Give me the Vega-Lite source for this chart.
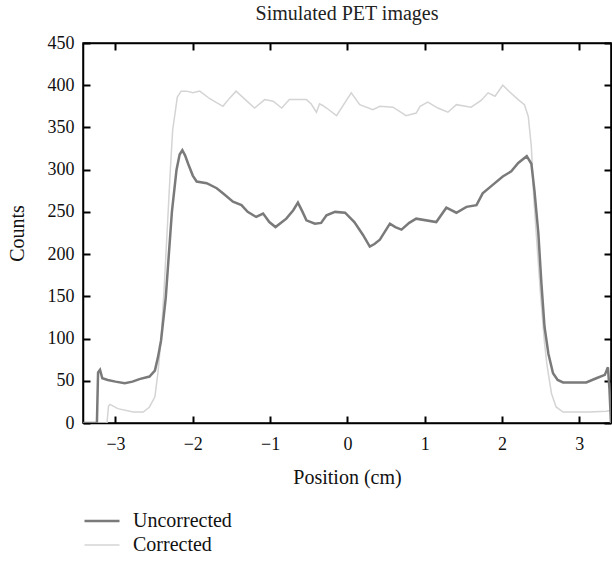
{
  "$schema": "https://vega.github.io/schema/vega-lite/v6.json",
  "width": 528,
  "height": 380,
  "autosize": {"type": "none"},
  "padding": {"left": 83, "top": 43, "right": 1, "bottom": 139},
  "title": {"text": "Simulated PET images", "font": "Liberation Serif", "fontSize": 20, "fontWeight": "normal", "color": "#222", "offset": 10},
  "config": {
    "font": "Liberation Serif",
    "view": {"stroke": "black", "strokeWidth": 1.5},
    "axis": {
      "domainColor": "black", "domainWidth": 1.5,
      "tickColor": "black", "tickWidth": 2, "tickSize": -7,
      "labelFont": "Liberation Serif", "labelFontSize": 18, "labelColor": "#111",
      "titleFont": "Liberation Serif", "titleFontSize": 20, "titleFontWeight": "normal", "titleColor": "#111",
      "grid": false
    }
  },
  "data": {"values": [
    {"x": -3.42, "y": 0, "s": "Corrected"},
    {"x": -3.11, "y": 0, "s": "Corrected"},
    {"x": -3.09, "y": 20, "s": "Corrected"},
    {"x": -3.07, "y": 22, "s": "Corrected"},
    {"x": -2.97, "y": 17, "s": "Corrected"},
    {"x": -2.77, "y": 13, "s": "Corrected"},
    {"x": -2.64, "y": 13, "s": "Corrected"},
    {"x": -2.56, "y": 19, "s": "Corrected"},
    {"x": -2.49, "y": 31, "s": "Corrected"},
    {"x": -2.45, "y": 60, "s": "Corrected"},
    {"x": -2.41, "y": 100, "s": "Corrected"},
    {"x": -2.37, "y": 160, "s": "Corrected"},
    {"x": -2.33, "y": 230, "s": "Corrected"},
    {"x": -2.29, "y": 300, "s": "Corrected"},
    {"x": -2.26, "y": 347, "s": "Corrected"},
    {"x": -2.20, "y": 386, "s": "Corrected"},
    {"x": -2.15, "y": 393, "s": "Corrected"},
    {"x": -2.08, "y": 393, "s": "Corrected"},
    {"x": -2.00, "y": 391, "s": "Corrected"},
    {"x": -1.91, "y": 393, "s": "Corrected"},
    {"x": -1.78, "y": 384, "s": "Corrected"},
    {"x": -1.61, "y": 375, "s": "Corrected"},
    {"x": -1.52, "y": 385, "s": "Corrected"},
    {"x": -1.44, "y": 393, "s": "Corrected"},
    {"x": -1.31, "y": 382, "s": "Corrected"},
    {"x": -1.20, "y": 373, "s": "Corrected"},
    {"x": -1.07, "y": 383, "s": "Corrected"},
    {"x": -0.96, "y": 381, "s": "Corrected"},
    {"x": -0.85, "y": 373, "s": "Corrected"},
    {"x": -0.75, "y": 383, "s": "Corrected"},
    {"x": -0.53, "y": 383, "s": "Corrected"},
    {"x": -0.47, "y": 378, "s": "Corrected"},
    {"x": -0.40, "y": 368, "s": "Corrected"},
    {"x": -0.36, "y": 378, "s": "Corrected"},
    {"x": -0.32, "y": 376, "s": "Corrected"},
    {"x": -0.27, "y": 373, "s": "Corrected"},
    {"x": -0.14, "y": 364, "s": "Corrected"},
    {"x": 0.05, "y": 391, "s": "Corrected"},
    {"x": 0.16, "y": 377, "s": "Corrected"},
    {"x": 0.33, "y": 371, "s": "Corrected"},
    {"x": 0.42, "y": 375, "s": "Corrected"},
    {"x": 0.59, "y": 374, "s": "Corrected"},
    {"x": 0.76, "y": 364, "s": "Corrected"},
    {"x": 0.89, "y": 367, "s": "Corrected"},
    {"x": 0.94, "y": 375, "s": "Corrected"},
    {"x": 1.04, "y": 380, "s": "Corrected"},
    {"x": 1.17, "y": 373, "s": "Corrected"},
    {"x": 1.30, "y": 368, "s": "Corrected"},
    {"x": 1.41, "y": 377, "s": "Corrected"},
    {"x": 1.60, "y": 374, "s": "Corrected"},
    {"x": 1.73, "y": 382, "s": "Corrected"},
    {"x": 1.82, "y": 391, "s": "Corrected"},
    {"x": 1.91, "y": 387, "s": "Corrected"},
    {"x": 2.01, "y": 400, "s": "Corrected"},
    {"x": 2.10, "y": 392, "s": "Corrected"},
    {"x": 2.21, "y": 383, "s": "Corrected"},
    {"x": 2.29, "y": 377, "s": "Corrected"},
    {"x": 2.34, "y": 363, "s": "Corrected"},
    {"x": 2.38, "y": 327, "s": "Corrected"},
    {"x": 2.41, "y": 268, "s": "Corrected"},
    {"x": 2.45, "y": 215, "s": "Corrected"},
    {"x": 2.50, "y": 150, "s": "Corrected"},
    {"x": 2.55, "y": 95, "s": "Corrected"},
    {"x": 2.58, "y": 70, "s": "Corrected"},
    {"x": 2.64, "y": 35, "s": "Corrected"},
    {"x": 2.70, "y": 19, "s": "Corrected"},
    {"x": 2.79, "y": 13, "s": "Corrected"},
    {"x": 3.13, "y": 13, "s": "Corrected"},
    {"x": 3.35, "y": 14, "s": "Corrected"},
    {"x": 3.41, "y": 15, "s": "Corrected"},
    {"x": -3.42, "y": 0, "s": "Uncorrected"},
    {"x": -3.24, "y": 0, "s": "Uncorrected"},
    {"x": -3.225, "y": 60, "s": "Uncorrected"},
    {"x": -3.20, "y": 63, "s": "Uncorrected"},
    {"x": -3.17, "y": 53, "s": "Uncorrected"},
    {"x": -3.10, "y": 51, "s": "Uncorrected"},
    {"x": -3.00, "y": 49, "s": "Uncorrected"},
    {"x": -2.88, "y": 47, "s": "Uncorrected"},
    {"x": -2.78, "y": 49, "s": "Uncorrected"},
    {"x": -2.69, "y": 52, "s": "Uncorrected"},
    {"x": -2.56, "y": 55, "s": "Uncorrected"},
    {"x": -2.49, "y": 62, "s": "Uncorrected"},
    {"x": -2.45, "y": 78, "s": "Uncorrected"},
    {"x": -2.41, "y": 98, "s": "Uncorrected"},
    {"x": -2.35, "y": 148, "s": "Uncorrected"},
    {"x": -2.31, "y": 199, "s": "Uncorrected"},
    {"x": -2.27, "y": 250, "s": "Uncorrected"},
    {"x": -2.21, "y": 300, "s": "Uncorrected"},
    {"x": -2.17, "y": 318, "s": "Uncorrected"},
    {"x": -2.135, "y": 323, "s": "Uncorrected"},
    {"x": -2.10, "y": 317, "s": "Uncorrected"},
    {"x": -2.06, "y": 307, "s": "Uncorrected"},
    {"x": -2.00, "y": 293, "s": "Uncorrected"},
    {"x": -1.95, "y": 286, "s": "Uncorrected"},
    {"x": -1.82, "y": 284, "s": "Uncorrected"},
    {"x": -1.69, "y": 278, "s": "Uncorrected"},
    {"x": -1.61, "y": 272, "s": "Uncorrected"},
    {"x": -1.48, "y": 262, "s": "Uncorrected"},
    {"x": -1.37, "y": 258, "s": "Uncorrected"},
    {"x": -1.29, "y": 250, "s": "Uncorrected"},
    {"x": -1.18, "y": 244, "s": "Uncorrected"},
    {"x": -1.09, "y": 248, "s": "Uncorrected"},
    {"x": -1.01, "y": 238, "s": "Uncorrected"},
    {"x": -0.93, "y": 232, "s": "Uncorrected"},
    {"x": -0.79, "y": 242, "s": "Uncorrected"},
    {"x": -0.70, "y": 252, "s": "Uncorrected"},
    {"x": -0.64, "y": 261, "s": "Uncorrected"},
    {"x": -0.58, "y": 250, "s": "Uncorrected"},
    {"x": -0.53, "y": 240, "s": "Uncorrected"},
    {"x": -0.42, "y": 236, "s": "Uncorrected"},
    {"x": -0.34, "y": 237, "s": "Uncorrected"},
    {"x": -0.27, "y": 246, "s": "Uncorrected"},
    {"x": -0.16, "y": 250, "s": "Uncorrected"},
    {"x": -0.03, "y": 249, "s": "Uncorrected"},
    {"x": 0.09, "y": 238, "s": "Uncorrected"},
    {"x": 0.20, "y": 223, "s": "Uncorrected"},
    {"x": 0.29, "y": 209, "s": "Uncorrected"},
    {"x": 0.35, "y": 212, "s": "Uncorrected"},
    {"x": 0.42, "y": 217, "s": "Uncorrected"},
    {"x": 0.55, "y": 236, "s": "Uncorrected"},
    {"x": 0.62, "y": 232, "s": "Uncorrected"},
    {"x": 0.70, "y": 229, "s": "Uncorrected"},
    {"x": 0.80, "y": 237, "s": "Uncorrected"},
    {"x": 0.89, "y": 242, "s": "Uncorrected"},
    {"x": 1.15, "y": 238, "s": "Uncorrected"},
    {"x": 1.28, "y": 255, "s": "Uncorrected"},
    {"x": 1.41, "y": 249, "s": "Uncorrected"},
    {"x": 1.54, "y": 256, "s": "Uncorrected"},
    {"x": 1.67, "y": 258, "s": "Uncorrected"},
    {"x": 1.75, "y": 272, "s": "Uncorrected"},
    {"x": 1.88, "y": 282, "s": "Uncorrected"},
    {"x": 2.01, "y": 292, "s": "Uncorrected"},
    {"x": 2.12, "y": 298, "s": "Uncorrected"},
    {"x": 2.21, "y": 308, "s": "Uncorrected"},
    {"x": 2.32, "y": 316, "s": "Uncorrected"},
    {"x": 2.38, "y": 307, "s": "Uncorrected"},
    {"x": 2.42, "y": 275, "s": "Uncorrected"},
    {"x": 2.47, "y": 225, "s": "Uncorrected"},
    {"x": 2.51, "y": 165, "s": "Uncorrected"},
    {"x": 2.55, "y": 114, "s": "Uncorrected"},
    {"x": 2.60, "y": 82, "s": "Uncorrected"},
    {"x": 2.66, "y": 59, "s": "Uncorrected"},
    {"x": 2.72, "y": 51, "s": "Uncorrected"},
    {"x": 2.79, "y": 48, "s": "Uncorrected"},
    {"x": 3.09, "y": 48, "s": "Uncorrected"},
    {"x": 3.22, "y": 53, "s": "Uncorrected"},
    {"x": 3.33, "y": 57, "s": "Uncorrected"},
    {"x": 3.37, "y": 66, "s": "Uncorrected"},
    {"x": 3.39, "y": 40, "s": "Uncorrected"},
    {"x": 3.41, "y": 0, "s": "Uncorrected"}
  ]},
  "layer": [
    {
      "mark": {"type": "line", "clip": true},
      "encoding": {
        "x": {"field": "x", "type": "quantitative", "scale": {"domain": [-3.42, 3.41], "nice": false, "zero": false},
              "axis": {"values": [-3, -2, -1, 0, 1, 2, 3], "title": "Position (cm)", "labelPadding": 19, "titlePadding": 14}},
        "y": {"field": "y", "type": "quantitative", "scale": {"domain": [0, 450], "nice": false},
              "axis": {"values": [0, 50, 100, 150, 200, 250, 300, 350, 400, 450], "title": "Counts", "labelPadding": 16, "titlePadding": 20}},
        "color": {"field": "s", "type": "nominal",
                  "scale": {"domain": ["Uncorrected", "Corrected"], "range": ["#7a7a7a", "#d4d4d4"]},
                  "legend": {"title": null, "orient": "none", "legendX": 0, "legendY": 466, "symbolType": "stroke", "symbolSize": 1225,
                             "symbolStrokeWidth": 2.2, "labelFont": "Liberation Serif", "labelFontSize": 20, "labelColor": "#111",
                             "labelOffset": 12, "rowPadding": 0, "clipHeight": 24, "padding": 0}},
        "strokeWidth": {"field": "s", "type": "nominal",
                        "scale": {"domain": ["Uncorrected", "Corrected"], "range": [2.5, 1.5]}, "legend": null}
      }
    },
    {
      "mark": {"type": "line", "strokeOpacity": 0},
      "encoding": {
        "x": {"field": "x", "type": "quantitative", "axis": {"orient": "top", "labels": false, "title": null, "values": [-3, -2, -1, 0, 1, 2, 3]}},
        "y": {"field": "y", "type": "quantitative", "axis": {"orient": "right", "labels": false, "title": null, "values": [0, 50, 100, 150, 200, 250, 300, 350, 400, 450]}}
      }
    }
  ],
  "resolve": {"axis": {"x": "independent", "y": "independent"}}
}
